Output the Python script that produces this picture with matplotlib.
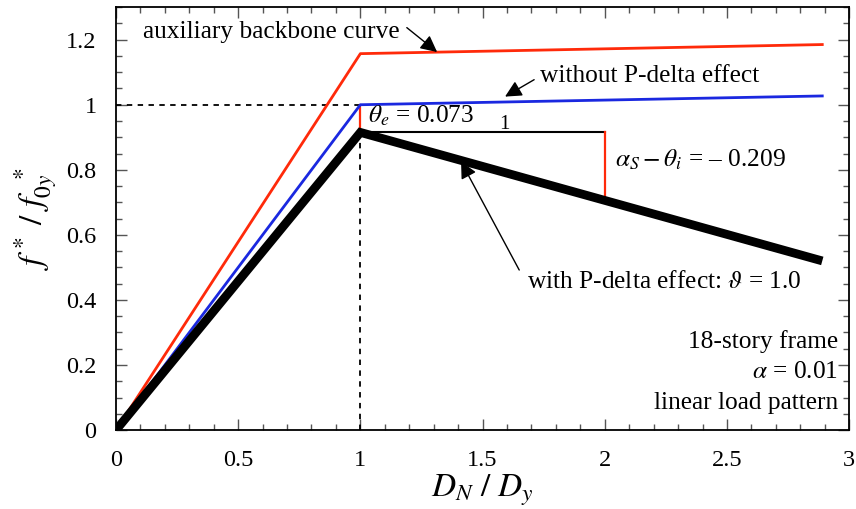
import matplotlib
matplotlib.use("Agg")
import matplotlib.pyplot as plt
from matplotlib.ticker import MultipleLocator, FuncFormatter

plt.rcParams['font.family'] = ['Liberation Serif', 'DejaVu Serif']
plt.rcParams['mathtext.fontset'] = 'stix'

# Normalized displacement / force points of the three backbone curves
d_points = [0.0, 1.0, 2.89]
aux_backbone = [0.0, 1.157, 1.185]
no_pdelta = [0.0, 1.0, 1.027]
with_pdelta = [0.0, 0.915, 0.915 - 0.209 * 1.89]

theta_e = 0.073
slope_ratio = -0.209

fig = plt.figure(figsize=(8.56, 5.09), dpi=100)
ax = fig.add_axes([0.1355, 0.155, 0.8565, 0.831])

ax.plot(d_points, aux_backbone, color='#ff2a0a', lw=2.0, zorder=3)
ax.plot(d_points, no_pdelta, color='#1a28e0', lw=2.0, zorder=3)
ax.plot(d_points, with_pdelta, color='black', lw=6.3, solid_capstyle='butt',
        solid_joinstyle='miter', zorder=4)

peak = with_pdelta[1]
# yield reference lines
ax.plot([0, 1], [1, 1], color='k', lw=1.3, ls=(0, (3, 3)), zorder=2)
ax.plot([1, 1], [0, peak], color='k', lw=1.3, ls=(0, (3, 3)), zorder=2)

# slope triangle
ax.plot([1, 2], [peak, peak], color='k', lw=1.5, zorder=2)
ax.plot([2, 2], [peak, peak + slope_ratio], color='#ff2a0a', lw=1.6, zorder=2)
ax.plot([1, 1], [1.0, peak], color='#ff2a0a', lw=1.6, zorder=2)

fs = 18.3
ax.text(1.03, 0.965, r'$\theta_e$' + f' = {theta_e:.3f}', fontsize=fs, va='center')
ax.text(1.59, 0.94, '1', fontsize=15, va='center', ha='center')
ax.text(2.04, 0.83, r'$\alpha_S - \theta_i$' + f' = \u2013 {abs(slope_ratio):.3f}',
        fontsize=fs, va='center')

arrow = dict(arrowstyle='-|>', color='k', lw=1.0, mutation_scale=25,
             shrinkA=0, shrinkB=0)
ax.annotate('', xy=(1.314, 1.162), xytext=(1.19, 1.237), arrowprops=arrow)
ax.text(0.11, 1.225, 'auxiliary backbone curve', fontsize=fs, va='center')
ax.annotate('', xy=(1.592, 1.025), xytext=(1.711, 1.077), arrowprops=arrow)
ax.text(1.735, 1.089, 'without P-delta effect', fontsize=fs, va='center')
ax.annotate('', xy=(1.412, 0.825), xytext=(1.65, 0.492), arrowprops=arrow)
ax.text(1.682, 0.455, r'with P-delta effect: $\vartheta$ = 1.0', fontsize=fs,
        va='center')

ax.text(2.955, 0.271, '18-story frame', fontsize=fs, ha='right', va='center')
ax.text(2.955, 0.178, r'$\alpha$ = 0.01', fontsize=fs, ha='right', va='center')
ax.text(2.955, 0.083, 'linear load pattern', fontsize=fs, ha='right', va='center')

ax.set_xlim(0, 3)
ax.set_ylim(0, 1.3)
ax.xaxis.set_major_locator(MultipleLocator(0.5))
ax.xaxis.set_minor_locator(MultipleLocator(0.1))
ax.yaxis.set_major_locator(MultipleLocator(0.2))
ax.yaxis.set_minor_locator(MultipleLocator(0.05))
fmt = FuncFormatter(lambda v, p: f'{v:g}')
ax.xaxis.set_major_formatter(fmt)
ax.yaxis.set_major_formatter(fmt)
ax.tick_params(which='both', direction='in', top=True, right=True,
               labelsize=17.5, width=1.0, color='#555555')
ax.tick_params(which='major', length=8)
ax.tick_params(which='minor', length=4)
ax.tick_params(axis='y', which='major', pad=14)
ax.tick_params(axis='x', which='major', pad=14)
for s in ax.spines.values():
    s.set_linewidth(1.3)

ax.set_xlabel(r'$D_N\ /\ D_y$', fontsize=24, labelpad=1)
ax.set_ylabel(r'$f^*\ /\ f_{0y}^{\ \ *}$', fontsize=24, labelpad=5)

fig.savefig('out.png', dpi=100)
